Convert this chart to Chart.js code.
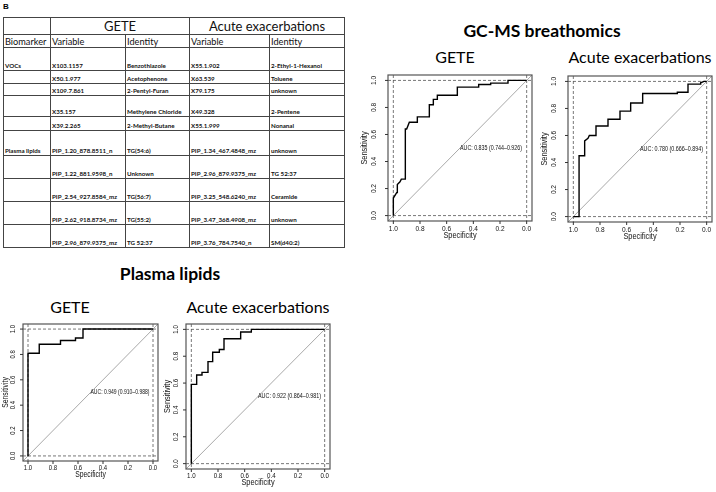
<!DOCTYPE html>
<html>
<head>
<meta charset="utf-8">
<script src="https://cdn.jsdelivr.net/npm/chart.js@4.4.1/dist/chart.umd.min.js"></script>
<style>
  body { margin: 0; width: 716px; height: 492px; position: relative; overflow: hidden; background: #fff; font-family: Lato, "Open Sans", sans-serif; color: #000; }
  .ttl { position: absolute; transform: translate(-50%, -50%); white-space: nowrap; line-height: 1.2; }
  .big { font-size: 17.5px; font-weight: bold; }
  .sub { font-size: 16px; }
  .tag { position: absolute; left: 3px; top: 2px; font: bold 8px "Liberation Sans", sans-serif; }
  canvas { position: absolute; }
  #markers { position: absolute; left: 3px; top: 17px; width: 341px; border-collapse: collapse; table-layout: fixed; }
  #markers td { border: 1px solid #444; padding: 0 0 1px 1px; overflow: hidden; white-space: nowrap; vertical-align: bottom; font-size: 6.2px; font-weight: bold; line-height: 7px; color: #111; }
  #markers td.grp { text-align: center; vertical-align: middle; font-size: 13px; font-weight: normal; line-height: 15px; padding: 0; }
  #markers td.hd { font-size: 9.2px; font-weight: normal; line-height: 11px; vertical-align: middle; padding: 0 0 0 1px; }
</style>
</head>
<body>
<div class="tag">B</div>
<table id="markers"></table>

<div class="ttl big" style="left:542px; top:30px">GC-MS breathomics</div>
<div class="ttl sub" style="left:455px; top:57px">GETE</div>
<div class="ttl sub" style="left:640px; top:57px">Acute exacerbations</div>
<div class="ttl big" style="left:170px; top:273px">Plasma lipids</div>
<div class="ttl sub" style="left:70px; top:307px">GETE</div>
<div class="ttl sub" style="left:258px; top:307px">Acute exacerbations</div>

<canvas id="breathGete" width="180" height="172" style="left:356px; top:70px"></canvas>
<canvas id="breathAe" width="180" height="172" style="left:536px; top:70px"></canvas>
<canvas id="plasmaGete" width="162" height="162" style="left:0px; top:318px"></canvas>
<canvas id="plasmaAe" width="174" height="174" style="left:160px; top:318px"></canvas>

<script>
// table contents
const groupNames = ["GETE", "Acute exacerbations"];
const headers = ["Biomarker", "Variable", "Identity", "Variable", "Identity"];
const biomarkers = ["VOCs", "", "", "", "", "Plasma lipids", "", "", "", ""];
const geteVariables = ["X103.1157", "X50.1.977", "X109.7.861", "X35.157", "X39.2.265",
  "PIP_1.20_878.8511_n", "PIP_1.22_881.9598_n", "PIP_2.54_927.8584_mz", "PIP_2.62_918.8734_mz", "PIP_2.96_879.9375_mz"];
const geteIdentities = ["Benzothiazole", "Acetophenone", "2-Pentyl-Furan", "Methylene Chloride", "2-Methyl-Butane",
  "TG(54:6)", "Unknown", "TG(56:7)", "TG(55:2)", "TG 52:37"];
const aeVariables = ["X55.1.902", "X63.539", "X79.175", "X49.328", "X55.1.999",
  "PIP_1.34_467.4848_mz", "PIP_2.96_879.9375_mz", "PIP_3.25_548.6240_mz", "PIP_3.47_368.4908_mz", "PIP_3.76_784.7540_n"];
const aeIdentities = ["2-Ethyl-1-Hexanol", "Toluene", "unknown", "2-Pentene", "Nonanal",
  "unknown", "TG 52:37", "Ceramide", "unknown", "SM(d40:2)"];

// ROC curves (specificity, sensitivity)
const breathGeteSpec = [1.00, 1.00, 0.975, 0.97, 0.97, 0.95, 0.94, 0.91, 0.91, 0.90, 0.88, 0.82, 0.82, 0.73, 0.73, 0.70, 0.70, 0.67, 0.67, 0.52, 0.52, 0.36, 0.36, 0.27, 0.27, 0.14, 0.14, 0.00];
const breathGeteSens = [0.00, 0.13, 0.17, 0.17, 0.23, 0.25, 0.27, 0.27, 0.64, 0.64, 0.69, 0.69, 0.73, 0.73, 0.82, 0.82, 0.86, 0.86, 0.89, 0.89, 0.95, 0.95, 0.97, 0.97, 0.98, 0.98, 1.00, 1.00];

const breathAeSpec = [1.00, 0.957, 0.957, 0.915, 0.915, 0.89, 0.88, 0.83, 0.83, 0.74, 0.74, 0.65, 0.65, 0.57, 0.57, 0.48, 0.48, 0.22, 0.22, 0.14, 0.14, 0.045, 0.045, 0.02, 0.00];
const breathAeSens = [0.00, 0.00, 0.45, 0.45, 0.56, 0.58, 0.60, 0.60, 0.67, 0.67, 0.72, 0.72, 0.78, 0.78, 0.84, 0.84, 0.91, 0.91, 0.92, 0.92, 0.98, 0.98, 0.99, 1.00, 1.00];

const plasmaGeteSpec = [1.00, 1.00, 0.91, 0.91, 0.74, 0.74, 0.62, 0.62, 0.56, 0.56, 0.00];
const plasmaGeteSens = [0.00, 0.81, 0.81, 0.88, 0.88, 0.91, 0.91, 0.93, 0.93, 1.00, 1.00];

const plasmaAeSpec = [1.00, 1.00, 0.96, 0.96, 0.92, 0.92, 0.875, 0.875, 0.84, 0.84, 0.79, 0.79, 0.755, 0.755, 0.63, 0.63, 0.55, 0.55, 0.00];
const plasmaAeSens = [0.00, 0.59, 0.59, 0.66, 0.66, 0.68, 0.68, 0.76, 0.76, 0.83, 0.83, 0.85, 0.85, 0.93, 0.93, 0.98, 0.98, 1.00, 1.00];

const aucLabels = ["AUC: 0.835 (0.744\u20130.926)", "AUC: 0.780 (0.666\u20130.894)", "AUC: 0.949 (0.910\u20130.988)", "AUC: 0.922 (0.864\u20130.981)"];
const tickValues = [1.0, 0.8, 0.6, 0.4, 0.2, 0.0];
const tickLabels = ["1.0", "0.8", "0.6", "0.4", "0.2", "0.0"];

// layout of the table
const colWidths = [47, 75, 64, 80, 75];
const rowHeights = [23, 13, 12, 21, 14, 25, 23, 23, 23, 23];

document.addEventListener("DOMContentLoaded", function () {
  buildTable();
  createRocChart("breathGete", breathGeteSpec, breathGeteSens, aucLabels[0],
    { padding: { left: 32, right: 4, top: 5, bottom: 21 }, aucWidth: 62, tickFont: 8, titleFont: 9, squeeze: 0.82,
      xLabel: 8, xTitle: 15, yLabel: 14, yTitle: 23 });
  createRocChart("breathAe", breathAeSpec, breathAeSens, aucLabels[1],
    { padding: { left: 32, right: 4, top: 6, bottom: 20 }, aucWidth: 63, tickFont: 8, titleFont: 9, squeeze: 0.82,
      xLabel: 8, xTitle: 15, yLabel: 14, yTitle: 23 });
  createRocChart("plasmaGete", plasmaGeteSpec, plasmaGeteSens, aucLabels[2],
    { padding: { left: 23, right: 4, top: 6, bottom: 19 }, aucWidth: 59, tickFont: 7.5, titleFont: 8.5, squeeze: 0.8,
      xLabel: 6.5, xTitle: 14, yLabel: 10, yTitle: 17 });
  createRocChart("plasmaAe", plasmaAeSpec, plasmaAeSens, aucLabels[3],
    { padding: { left: 26, right: 4, top: 6, bottom: 23 }, aucWidth: 63, tickFont: 7.5, titleFont: 9, squeeze: 0.82,
      xLabel: 6.5, xTitle: 14, yLabel: 10, yTitle: 18 });
});

function buildTable() {
  let html = "<colgroup>" + colWidths.map(w => `<col style="width:${w}px">`).join("") + "</colgroup>";
  html += `<tr style="height:17px"><td></td><td colspan="2" class="grp">${groupNames[0]}</td><td colspan="2" class="grp">${groupNames[1]}</td></tr>`;
  html += `<tr style="height:13px">` + headers.map(h => `<td class="hd">${h}</td>`).join("") + "</tr>";
  biomarkers.forEach((b, i) => {
    html += `<tr style="height:${rowHeights[i]}px"><td>${b}</td><td>${geteVariables[i]}</td><td>${geteIdentities[i]}</td><td>${aeVariables[i]}</td><td>${aeIdentities[i]}</td></tr>`;
  });
  document.getElementById("markers").innerHTML = html;
}

// R-style frame, reference lines, ticks and labels
const rocFrame = {
  id: "rocFrame",
  beforeDatasetsDraw(chart, args, o) {
    const { ctx, chartArea: a, scales: { x, y } } = chart;
    ctx.save();
    ctx.strokeStyle = "#a8a8a8";
    ctx.lineWidth = 1;
    ctx.beginPath();
    ctx.moveTo(x.getPixelForValue(x.max), y.getPixelForValue(y.min));
    ctx.lineTo(x.getPixelForValue(x.min), y.getPixelForValue(y.max));
    ctx.stroke();

    ctx.setLineDash([3, 2]);
    ctx.strokeStyle = "#555";
    ctx.lineWidth = 0.8;
    [0, 1].forEach(v => {
      const px = x.getPixelForValue(v);
      const py = y.getPixelForValue(v);
      ctx.beginPath();
      ctx.moveTo(px, a.top); ctx.lineTo(px, a.bottom);
      ctx.moveTo(a.left, py); ctx.lineTo(a.right, py);
      ctx.stroke();
    });
    ctx.restore();
  },
  afterDraw(chart, args, o) {
    const { ctx, chartArea: a, scales: { x, y } } = chart;
    ctx.save();
    ctx.strokeStyle = "#555";
    ctx.lineWidth = 1.2;
    ctx.strokeRect(a.left, a.top, a.right - a.left, a.bottom - a.top);

    ctx.lineWidth = 1;
    ctx.strokeStyle = "#333";
    ctx.fillStyle = "#111";
    ctx.textAlign = "center";
    ctx.textBaseline = "middle";
    ctx.font = `${o.tickFont}px "Liberation Sans", Arial, sans-serif`;
    tickValues.forEach((v, i) => {
      const px = x.getPixelForValue(v);
      const py = y.getPixelForValue(v);
      ctx.beginPath();
      ctx.moveTo(px, a.bottom); ctx.lineTo(px, a.bottom + 3);
      ctx.moveTo(a.left, py); ctx.lineTo(a.left - 3, py);
      ctx.stroke();
      const w = ctx.measureText(tickLabels[i]).width * o.squeeze;
      ctx.fillText(tickLabels[i], px, a.bottom + o.xLabel, w);
      ctx.save();
      ctx.translate(a.left - o.yLabel, py);
      ctx.rotate(-Math.PI / 2);
      ctx.fillText(tickLabels[i], 0, 0, w);
      ctx.restore();
    });

    ctx.font = `${o.titleFont}px "Liberation Sans", Arial, sans-serif`;
    const tw = ctx.measureText("Specificity").width * o.squeeze;
    ctx.fillText("Specificity", (a.left + a.right) / 2, a.bottom + o.xTitle, tw);
    ctx.save();
    ctx.translate(a.left - o.yTitle, (a.top + a.bottom) / 2);
    ctx.rotate(-Math.PI / 2);
    ctx.fillText("Sensitivity", 0, 0, ctx.measureText("Sensitivity").width * o.squeeze);
    ctx.restore();

    ctx.font = `7px "Liberation Sans", Arial, sans-serif`;
    ctx.textAlign = "left";
    ctx.fillText(o.auc, x.getPixelForValue(0.5), y.getPixelForValue(0.5), o.aucWidth);
    ctx.restore();
  }
};

function createRocChart(id, spec, sens, auc, look) {
  const ctx = document.getElementById(id).getContext("2d");
  return new Chart(ctx, {
    type: "line",
    data: {
      datasets: [{
        data: spec.map((s, i) => ({ x: s, y: sens[i] })),
        borderColor: "#000",
        borderWidth: 1.4,
        pointRadius: 0,
        tension: 0,
        fill: false,
      }],
    },
    options: {
      responsive: false,
      animation: false,
      layout: { padding: look.padding },
      plugins: {
        legend: { display: false },
        tooltip: { enabled: false },
        rocFrame: Object.assign({ auc: auc }, look),
      },
      scales: {
        x: { type: "linear", reverse: true, min: -0.04, max: 1.04, display: false },
        y: { type: "linear", min: -0.04, max: 1.04, display: false },
      },
    },
    plugins: [rocFrame],
  });
}
</script>
</body>
</html>
